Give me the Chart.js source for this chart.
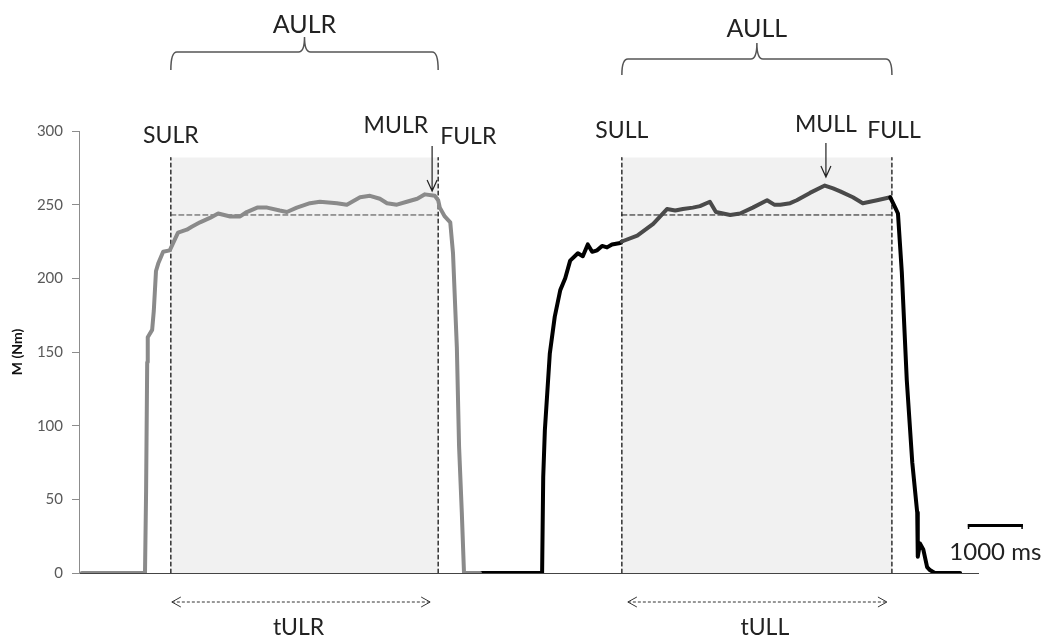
<!DOCTYPE html>
<html><head><meta charset="utf-8">
<script src="https://cdn.jsdelivr.net/npm/chart.js@4.4.0/dist/chart.umd.min.js"></script>
<style>html,body{margin:0;padding:0;background:#fff;}#wrap{width:1048px;height:639px;}</style>
</head><body><div id="wrap"><canvas id="c" width="1048" height="639"></canvas></div>
<script>
// ---- data (time in ms, torque in Nm) ----
const yTicks = [0, 50, 100, 150, 200, 250, 300];
const ulrTime = [50,1200,1220,1240,1250,1330,1360,1400,1440,1530,1650,1800,1960,2050,2200,2380,2530,2750,2930,3050,3240,3420,3650,3780,3960,4200,4380,4690,4870,5110,5290,5470,5600,5780,5960,6150,6290,6470,6530,6560,6650,6750,6800,6870,6910,6960,7000,7290];
const ulrTorque = [0,0,56,143,160,165,178,205,210,218,219,231,233,235,238,241,244,242,242,245,248,248,246,245,248,251,252,251,250,255,256,254,251,250,252,254,257,256,253,248,242,238,217,153,86,41,0,0];
const ullTime = [7290,8420,8440,8470,8560,8650,8750,8840,8930,9070,9160,9250,9330,9420,9510,9600,9690,9840,9870,10150,10440,10690,10840,10980,11160,11290,11470,11580,11710,11840,12020,12250,12510,12640,12750,12930,13050,13290,13560,13710,13840,14070,14250,14510,14750,14840,14890,14960,15050,15150,15240,15250,15290,15350,15420,15470,15560,16020];
const ullTorque = [0,0,65,97,149,174,192,200,212,217,215,223,218,219,222,221,223,224,225,229,237,247,246,247,248,249,252,245,244,243,244,248,253,250,250,251,253,258,263,261,259,255,251,253,255,248,244,204,131,75,41,11,20,16,4,2,0,0];
const startTimes = [1670, 9870];      // SULR, SULL
const maxTimes = [6420, 13580];       // MULR, MULL
const endTimes = [6530, 14780];       // FULR, FULL
const meanLevels = [243, 243];
const shadeTop = [282, 282];
const startLabels = ['SULR', 'SULL'];
const maxLabels = ['MULR', 'MULL'];
const endLabels = ['FULR', 'FULL'];
const areaLabels = ['AULR', 'AULL'];
const durationLabels = ['tULR', 'tULL'];
const scaleBarStart = 16160;
const scaleBarMs = 1000;
const scaleBarLabel = '1000 ms';
const yTitle = 'M (Nm)';
const xMax = 16345;

const toPts = (xs, ys) => xs.map((x, i) => ({x, y: ys[i]}));

const datasets = [];
datasets.push({data: toPts(ulrTime, ulrTorque), borderColor: '#8a8a8a', borderWidth: 4, order: 0});
datasets.push({data: toPts(ullTime, ullTorque), borderColor: '#000', borderWidth: 4, order: 0,
  segment: {borderColor: c => (c.p0.parsed.x >= startTimes[1] && c.p1.parsed.x <= endTimes[1]) ? '#4a4a4a' : '#000'}});
for (let k = 0; k < 2; k++) {
  datasets.push({data: [{x: startTimes[k], y: shadeTop[k]}, {x: endTimes[k], y: shadeTop[k]}],
    borderWidth: 0, borderColor: 'rgba(0,0,0,0)', backgroundColor: '#f1f1f1', fill: 'origin', order: 3});
  datasets.push({data: [{x: startTimes[k], y: meanLevels[k]}, {x: endTimes[k], y: meanLevels[k]}],
    borderColor: k === 0 ? '#444' : '#111', borderWidth: 1, borderDash: [5, 3], order: 1});
  [startTimes[k], endTimes[k]].forEach(t => datasets.push({data: [{x: t, y: 0}, {x: t, y: shadeTop[k]}],
    borderColor: '#000', borderWidth: 1.2, borderDash: [4, 3], order: 1}));
}

const FONT = 'Lato, "Open Sans", sans-serif';
const annot = {
  id: 'annot',
  afterDraw(chart) {
    const ctx = chart.ctx, xs = chart.scales.x;
    const px = v => xs.getPixelForValue(v);
    const txt = (s, x, y, size, align) => {
      ctx.font = size + 'px ' + FONT; ctx.fillStyle = '#222';
      ctx.textAlign = align || 'center'; ctx.textBaseline = 'alphabetic'; ctx.fillText(s, x, y);
    };
    ctx.save();
    const brace = (x1, x2, yTop, yBar, yEnd) => {
      const xm = (x1 + x2) / 2, r = 6;
      ctx.beginPath();
      ctx.moveTo(x1, yEnd);
      ctx.quadraticCurveTo(x1, yBar, x1 + r, yBar);
      ctx.lineTo(xm - r, yBar);
      ctx.quadraticCurveTo(xm, yBar, xm, yTop);
      ctx.quadraticCurveTo(xm, yBar, xm + r, yBar);
      ctx.lineTo(x2 - r, yBar);
      ctx.quadraticCurveTo(x2, yBar, x2, yEnd);
      ctx.strokeStyle = '#555'; ctx.lineWidth = 1.5; ctx.stroke();
    };
    const braceY = [[37, 52, 70], [43, 59, 75]];
    const areaY = [33, 37];
    const startY = [143, 138], maxY = [133, 132], endY = [144, 138];
    const arrowY = [[146, 191], [143, 177]];
    for (let k = 0; k < 2; k++) {
      const a = px(startTimes[k]), b = px(endTimes[k]);
      brace(a, b, ...braceY[k]);
      txt(areaLabels[k], (a + b) / 2, areaY[k], 25);
      txt(startLabels[k], a, startY[k], 23);
      if (k === 0) {
        txt(maxLabels[k], px(maxTimes[k]) - 4, maxY[k], 23, 'right');
        txt(endLabels[k], b + 2, endY[k], 23, 'left');
      } else {
        txt(maxLabels[k], px(maxTimes[k]), maxY[k], 23);
        txt(endLabels[k], b + 2, endY[k], 23);
      }
      const mx = px(maxTimes[k]);
      ctx.beginPath();
      ctx.moveTo(mx, arrowY[k][0]); ctx.lineTo(mx, arrowY[k][1]);
      ctx.moveTo(mx - 5, arrowY[k][1] - 11); ctx.lineTo(mx, arrowY[k][1]); ctx.lineTo(mx + 5, arrowY[k][1] - 11);
      ctx.strokeStyle = '#222'; ctx.lineWidth = 1.2; ctx.stroke();
      const l = a + (k === 0 ? 1 : 6), r = b - (k === 0 ? 8 : 5), ay = 602;
      ctx.beginPath(); ctx.setLineDash([3, 2]);
      ctx.moveTo(l, ay); ctx.lineTo(r, ay);
      ctx.strokeStyle = '#333'; ctx.lineWidth = 1; ctx.stroke();
      ctx.setLineDash([]);
      ctx.beginPath();
      ctx.moveTo(l + 9, ay - 5); ctx.lineTo(l, ay); ctx.lineTo(l + 9, ay + 5);
      ctx.moveTo(r - 9, ay - 5); ctx.lineTo(r, ay); ctx.lineTo(r - 9, ay + 5);
      ctx.stroke();
      txt(durationLabels[k], (a + b) / 2 + (k === 0 ? -6 : 8), 635, 23);
    }
    const s1 = px(scaleBarStart), s2 = px(scaleBarStart + scaleBarMs);
    ctx.fillStyle = '#000';
    ctx.fillRect(s1, 524, s2 - s1, 3);
    ctx.fillRect(s1, 524, 1.5, 5); ctx.fillRect(s2 - 1.5, 524, 1.5, 5);
    txt(scaleBarLabel, (s1 + s2) / 2, 560, 24);
    ctx.restore();
  }
};

new Chart(document.getElementById('c'), {
  type: 'line',
  data: {datasets},
  options: {
    responsive: false, animation: false, devicePixelRatio: 1,
    layout: {padding: {left: 0, top: 131, right: 70, bottom: 66}},
    elements: {point: {radius: 0}, line: {tension: 0, borderJoinStyle: 'round', borderCapStyle: 'round', fill: false}},
    plugins: {legend: {display: false}, tooltip: {enabled: false}},
    scales: {
      x: {type: 'linear', min: 0, max: xMax,
        ticks: {display: false}, grid: {display: false},
        border: {display: true, color: '#444', width: 1},
        afterFit: s => { s.height = 0; }},
      y: {min: 0, max: 300,
        afterBuildTicks: s => { s.ticks = yTicks.map(v => ({value: v})); },
        ticks: {color: '#595959', font: {family: FONT, size: 15}, padding: 9},
        grid: {drawOnChartArea: false, drawTicks: true, tickLength: 7, color: '#8c8c8c'},
        border: {color: '#8c8c8c'},
        title: {display: true, text: yTitle, color: '#111', font: {family: FONT, size: 14, weight: 'bold'}, padding: {top: 9, bottom: 0}},
        afterFit: s => { s.width = 79; }}
    }
  },
  plugins: [annot]
});
</script></body></html>
